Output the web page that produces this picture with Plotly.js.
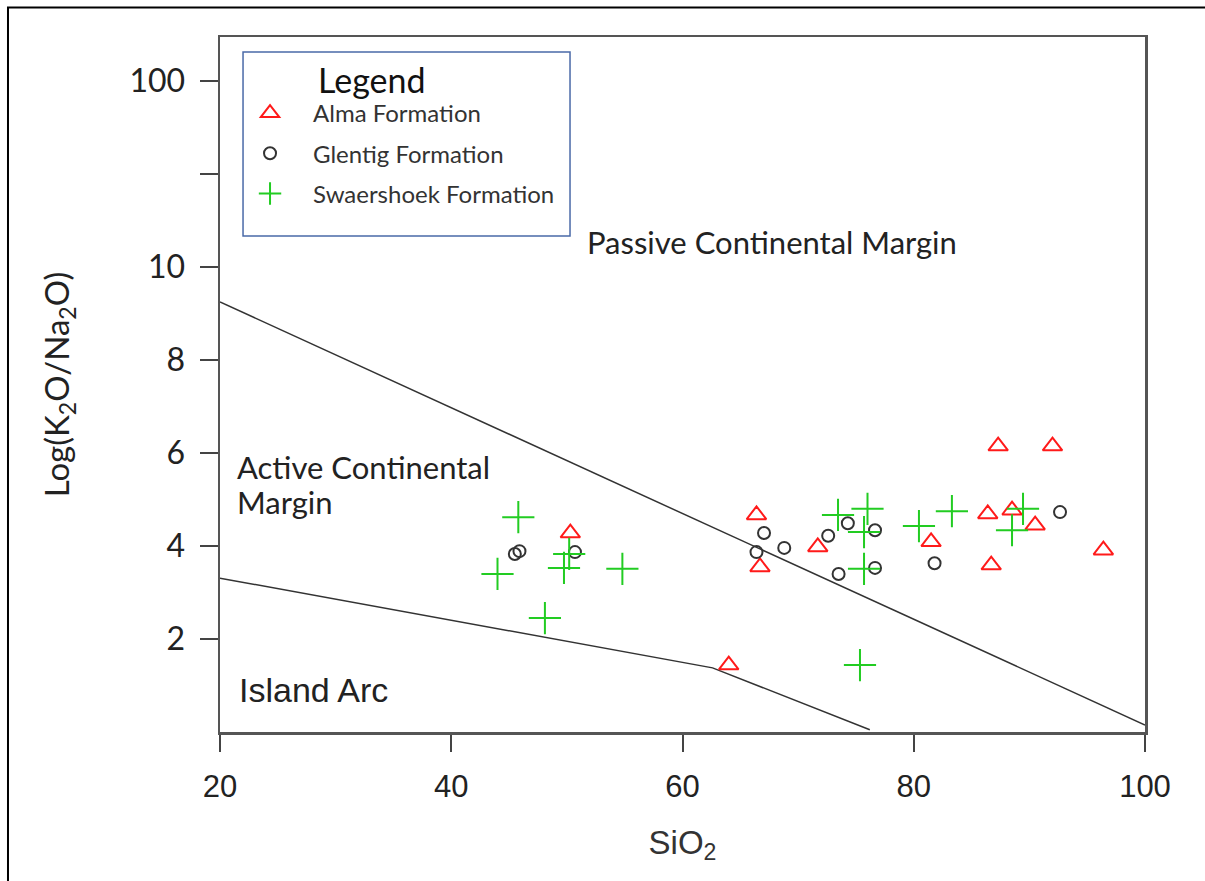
<!DOCTYPE html>
<html>
<head>
<meta charset="utf-8">
<script src="https://cdn.plot.ly/plotly-3.0.1.min.js"></script>
<style>html,body{margin:0;padding:0;background:#fff;}#chart{width:1205px;height:881px;}</style>
</head>
<body>
<div id="chart"></div>
<script>
// ---- Data ----
const almaSiO2 = [50.3, 66.4, 66.7, 71.7, 64.0, 87.3, 92.0, 86.4, 88.5, 90.5, 81.5, 86.7, 96.4];
const almaK2O  = [4.28, 4.67, 3.55, 3.98, 1.44, 6.15, 6.15, 4.69, 4.77, 4.45, 4.09, 3.59, 3.91];

const glentigSiO2 = [45.5, 45.9, 50.7, 67.05, 66.4, 68.8, 72.6, 74.3, 76.65, 73.5, 76.65, 81.8, 92.65];
const glentigK2O  = [3.83, 3.89, 3.87, 4.28, 3.87, 3.96, 4.22, 4.49, 4.34, 3.40, 3.53, 3.63, 4.73];

const swaerSiO2 = [45.8, 44.0, 49.75, 50.2, 54.8, 48.1, 73.45, 76.0, 75.7, 75.7, 80.45, 83.3, 75.35, 89.45, 88.5];
const swaerK2O  = [4.62, 3.40, 3.53, 3.83, 3.51, 2.45, 4.67, 4.80, 4.30, 3.51, 4.43, 4.75, 1.44, 4.80, 4.34];

// discrimination boundaries
const upperBoundX = [20, 100];
const upperBoundY = [9.25, 0.15];
const lowerBoundX = [20, 62.6, 76.2];
const lowerBoundY = [3.31, 1.38, 0.05];

// y axis ticks (linear 0-10, then compressed log decade above)
const yTickVals = [2, 4, 6, 8, 10, 14];
const yTickText = ['2', '4', '6', '8', '10', '100'];
const yMinorTickVals = [12];
const xTickVals = [20, 40, 60, 80, 100];

const seriesNames = ['Alma Formation', 'Glentig Formation', 'Swaershoek Formation'];

const calib = 'Lato, "Open Sans", sans-serif';
const arial = '"Liberation Sans", Arial, sans-serif';

const traces = [
  {x: upperBoundX, y: upperBoundY, mode: 'lines', line: {color: '#333', width: 1.5}, showlegend: false, hoverinfo: 'skip'},
  {x: lowerBoundX, y: lowerBoundY, mode: 'lines', line: {color: '#333', width: 1.5}, showlegend: false, hoverinfo: 'skip'},
  {x: almaSiO2, y: almaK2O, name: seriesNames[0], mode: 'markers', legendgroup: 'a',
   marker: {symbol: 'triangle-up-open', size: 17, color: '#ff1a1a', line: {width: 2, color: '#ff1a1a'}}},
  {x: glentigSiO2, y: glentigK2O, name: seriesNames[1], mode: 'markers', legendgroup: 'g',
   marker: {symbol: 'circle-open', size: 12, color: '#333', line: {width: 2, color: '#333'}}},
  {x: swaerSiO2, y: swaerK2O, name: seriesNames[2], mode: 'markers', legendgroup: 's',
   marker: {symbol: 'cross-thin-open', size: 23, color: '#22cc22', line: {width: 2, color: '#22cc22'}}}
];

const layout = {
  width: 1205, height: 881,
  margin: {l: 220, r: 60, t: 37, b: 149},
  paper_bgcolor: '#fff', plot_bgcolor: '#fff',
  showlegend: true,
  legend: {
    x: 0.0076, y: 0.9223, xanchor: 'left', yanchor: 'top',
    bgcolor: 'rgba(0,0,0,0)', borderwidth: 0,
    font: {family: calib, size: 24, color: '#333'},
    tracegroupgap: 6, itemwidth: 76
  },
  xaxis: {
    range: [20, 100], tickvals: xTickVals, ticks: 'outside', ticklen: 17, tickwidth: 2, tickcolor: '#444',
    showline: true, linecolor: '#555', linewidth: 2.5, mirror: true, showgrid: false, zeroline: false,
    tickfont: {family: arial, size: 31, color: '#222'}, ticklabelstandoff: 8,
    title: {text: 'SiO<sub>2</sub>', font: {family: arial, size: 33, color: '#333'}, standoff: 28}
  },
  yaxis: {
    range: [0, 14.95], tickvals: yTickVals, ticktext: yTickText, ticks: 'outside', ticklen: 18, tickwidth: 2, tickcolor: '#444',
    minor: {tickvals: yMinorTickVals, ticks: 'outside', ticklen: 18, tickwidth: 2, tickcolor: '#444', showgrid: false},
    showline: true, linecolor: '#555', linewidth: 2.5, mirror: true, showgrid: false, zeroline: false,
    tickfont: {family: calib, size: 32, color: '#222'}, ticklabelstandoff: 8,
    title: {text: 'Log(K<sub>2</sub>O/Na<sub>2</sub>O)', font: {family: calib, size: 33, color: '#222'}, standoff: 50}
  },
  annotations: [
    {xref: 'paper', yref: 'paper', x: 0.104, y: 0.939, xanchor: 'left', yanchor: 'middle', showarrow: false,
     text: 'Legend', font: {family: calib, size: 34, color: '#111'}},
    {x: 51.6, y: 10.54, xanchor: 'left', yanchor: 'middle', showarrow: false,
     text: 'Passive Continental Margin', font: {family: calib, size: 31, color: '#222'}},
    {x: 21.3, y: 5.70, xanchor: 'left', yanchor: 'middle', showarrow: false,
     text: 'Active Continental', font: {family: calib, size: 31, color: '#222'}},
    {x: 21.3, y: 4.95, xanchor: 'left', yanchor: 'middle', showarrow: false,
     text: 'Margin', font: {family: calib, size: 31, color: '#222'}},
    {x: 21.5, y: 0.90, xanchor: 'left', yanchor: 'middle', showarrow: false,
     text: 'Island Arc', font: {family: arial, size: 34, color: '#222'}}
  ],
  shapes: [
    {type: 'rect', xref: 'paper', yref: 'paper', x0: 0.0249, x1: 0.3784, y0: 0.7137, y1: 0.9784,
     line: {color: '#4a6aa8', width: 1.5}, fillcolor: 'rgba(0,0,0,0)'},
    {type: 'rect', xref: 'paper', yref: 'paper', x0: -0.2292, x1: 1.08, y0: -0.25, y1: 1.0424,
     line: {color: '#000', width: 2}, fillcolor: 'rgba(0,0,0,0)', layer: 'below'}
  ]
};

Plotly.newPlot('chart', traces, layout, {displayModeBar: false, staticPlot: true});
</script>
</body>
</html>
